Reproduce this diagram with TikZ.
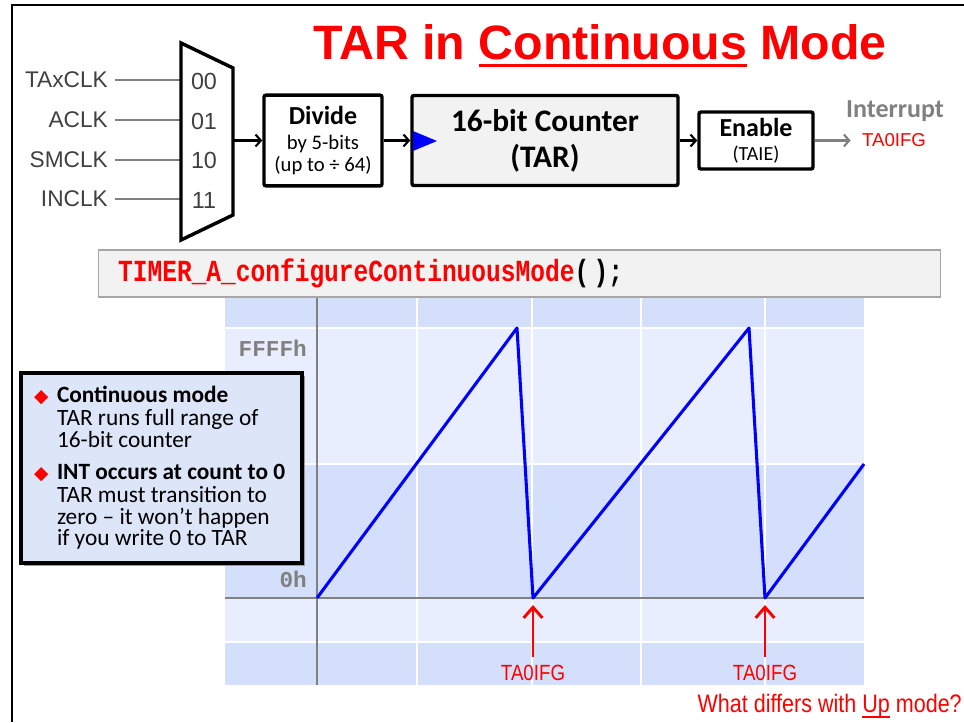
\documentclass[tikz,border=0pt]{standalone}
\usepackage{fontspec}
\setmainfont{Carlito}
\newfontfamily\arialfont{Liberation Sans}
\newfontfamily\narrowfont[FakeStretch=0.85]{Liberation Sans}
\newfontfamily\codefont[FakeStretch=0.8]{Liberation Mono}
\newfontfamily\axisfont{Liberation Mono}
\newfontfamily\symfont{DejaVu Sans}
\usetikzlibrary{arrows.meta}
\usetikzlibrary{shadows}
\definecolor{bandA}{HTML}{D3DFFB}
\definecolor{bandB}{HTML}{E8EEFD}
\definecolor{notebg}{HTML}{DCE6F8}
\definecolor{codebg}{HTML}{F2F2F2}
\definecolor{lblgray}{HTML}{808080}
\definecolor{ink}{HTML}{404040}
\newcommand\ulword[3]{\setbox0\hbox{#3}\rlap{\rule[#1]{\wd0}{#2}}\box0\relax}
\newcommand\bul{\makebox[17.25pt][l]{\symfont\fontsize{14}{14}\selectfont\textcolor{red}{◆}}}
\newcommand\ind{\hspace*{17.25pt}}

\begin{document}
\begin{tikzpicture}[x=0.75pt,y=-0.75pt,
  box/.style={draw,line width=2.6pt,rounded corners=1.5pt,align=center,inner sep=0pt},
  arr/.style={-{Straight Barb[length=4pt,width=9pt]},line width=1.6pt},
  clk/.style={anchor=east,inner sep=0pt,text=ink,font=\arialfont\fontsize{17}{17}\selectfont},
  sel/.style={inner sep=0pt,text=ink,font=\arialfont\fontsize{17.5}{17.5}\selectfont},
  flag/.style={inner sep=2pt,text=red,font=\narrowfont\fontsize{16.5}{16.5}\selectfont},
  ax/.style={anchor=east,inner sep=0pt,text=lblgray,font=\axisfont\bfseries\fontsize{17}{17}\selectfont},
  irq/.style={-{Straight Barb[length=8pt,width=14pt]},red,line width=2.2pt}]

\useasboundingbox (0,0) rectangle (964,722);
% slide frame
\draw[line width=1.6pt] (12,722) -- (12,5) -- (964,5);
\node[anchor=base] (title) at (600,59) {\arialfont\bfseries\fontsize{36.2}{37}\selectfont\color{red}TAR in \ulword{-6pt}{2.2pt}{Continuous} Mode};

% clock select mux
\foreach \clkname/\code/\y in {TAxCLK/00/80,ACLK/01/120,SMCLK/10/160,INCLK/11/199}{
  \node[clk] (in\code) at (108,\y) {\clkname};
  \coordinate (mux\code) at (181,\y);
  \draw[gray,line width=1pt,shorten <=5pt] (in\code.east) -- (mux\code);
}
\draw[line width=2.6pt,fill=white] (181,43) -- (233,68) -- (233,215) -- (181,240) -- cycle;
\foreach \code/\y in {00/81,01/121,10/160,11/200}
  \node[sel] (sel\code) at (204,\y) {\code};
\coordinate (muxout) at (233,140.5);

% divider, counter, enable
\node[box,minimum width=88.5pt,minimum height=68pt,font=\fontsize{15.5}{16.5}\selectfont] (divide) at (323,140.5) {{\bfseries\fontsize{19.5}{19.5}\selectfont Divide}\\[2.5pt]by 5-bits\\(up to ÷ 64)};
\node[box,fill=codebg,minimum width=199.5pt,minimum height=67.5pt,font=\bfseries\fontsize{23.5}{26}\selectfont] (counter) at (545,140.5) {16-bit Counter\\[1pt](TAR)};
\fill[blue] (413,131) -- (437,141) -- (413,151) -- cycle; % clock input mark
\node[box,minimum width=85.5pt,minimum height=42.75pt,font=\fontsize{15}{16}\selectfont] (enable) at (756,140.5) {{\bfseries\fontsize{19.5}{19.5}\selectfont Enable}\\[2pt](TAIE)};
\node[text=lblgray,font=\bfseries\fontsize{19.5}{19.5}\selectfont] (intr) at (895,111) {Interrupt};
\node[text=red,font=\arialfont\fontsize{14}{14}\selectfont] (irqflag) at (894,140.5) {TA0IFG};
\draw[arr] (muxout) -- (divide.west);
\draw[arr] (divide.east) -- (counter.west);
\draw[arr] (counter.east) -- (enable.west);
\draw[arr,lblgray,shorten >=5pt] (enable.east) -- (irqflag.west);

% code line
\node[draw=gray!70,line width=0.8pt,fill=codebg,minimum height=35.25pt,text width=602pt,inner xsep=15pt,align=left] (code) at (519.5,273.5) {\codefont\bfseries\fontsize{23}{24}\selectfont\textcolor{red}{TIMER\_A\_configureContinuousMode}( );};

% timing chart
\fill[bandA] (225,298) rectangle (864,328);
\fill[bandB] (225,328) rectangle (864,464);
\fill[bandA] (225,464) rectangle (864,598);
\fill[bandB] (225,598) rectangle (864,642);
\fill[bandA] (225,642) rectangle (864,685);
\foreach \x in {417,532,641,765} \draw[white,line width=1.2pt] (\x,298) -- (\x,685);
\foreach \y in {328,464,642} \draw[white,line width=1.2pt] (225,\y) -- (864,\y);
\draw[gray,line width=1.1pt] (317,298) -- (317,685); % axes
\draw[gray,line width=1.1pt] (225,598) -- (864,598);
\node[ax] (ffff) at (307,348) {FFFFh};
\node[ax] (zero) at (307,579) {0h};
\draw[blue,line width=2.3pt,line join=round] (317,598) -- (517,328) -- (533,598) -- (749,328) -- (765,598) -- (864,464);

% interrupt flags
\foreach \x/\n in {533/1,765/2}{
  \coordinate (hit\n) at (\x,605);
  \node[flag] (flag\n) at (\x,673) {TA0IFG};
  \draw[irq,shorten <=4pt] (flag\n.north) -- (hit\n);
}
\node[anchor=base east,inner sep=0pt,text=red,font=\narrowfont\fontsize{19}{19}\selectfont] (question) at (962,712) {What differs with \ulword{-4.5pt}{1.3pt}{Up} mode?};

% notes
\node[draw,line width=2.4pt,fill=notebg,general shadow={fill=black!40,shadow xshift=2.5pt,shadow yshift=-2.5pt},minimum width=210.75pt,minimum height=142.5pt,text width=191.25pt,inner xsep=9.75pt,align=flush left] (notes) at (161.5,468) {\fontsize{17.5}{16.9}\selectfont
\bul\textbf{Continuous mode}\\
\ind TAR runs full range of\\
\ind 16-bit counter\\[7pt]
\bul\textbf{INT occurs at count to 0}\\
\ind TAR must transition to\\
\ind zero – it won’t happen\\
\ind if you write 0 to TAR};
\end{tikzpicture}
\end{document}
